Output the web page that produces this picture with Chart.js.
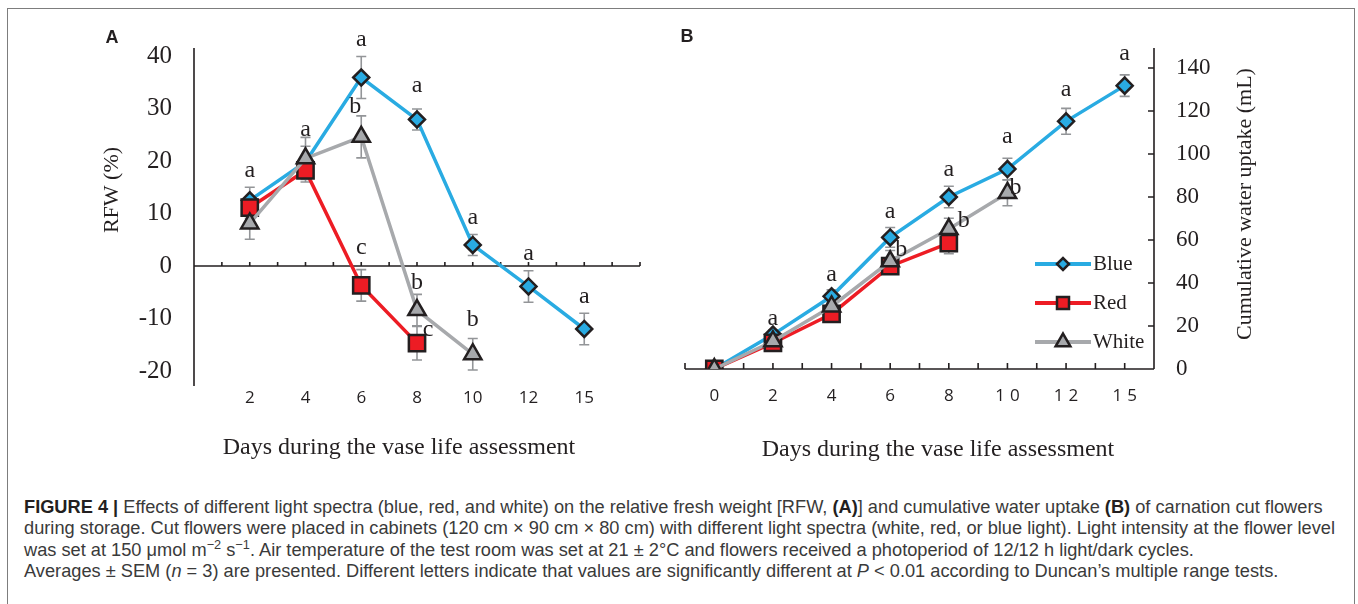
<!DOCTYPE html>
<html>
<head>
<meta charset="utf-8">
<script src="https://cdn.jsdelivr.net/npm/chart.js@4.4.1/dist/chart.umd.min.js"></script>
<style>
  body { margin: 0; background: #fff; width: 1358px; height: 604px; overflow: hidden; position: relative; }
  .frame { position: absolute; left: 7px; top: 8px; width: 1348px; height: 640px; border: 1.5px solid #7d7d7d; box-sizing: border-box; }
  #chartA { position: absolute; left: 0; top: 0; }
  #chartB { position: absolute; left: 660px; top: 0; }
  .caption { position: absolute; left: 24px; top: 496px; font-family: "Liberation Sans", Arial, sans-serif; font-size: 15.5px; line-height: 21.4px; color: #3a3a3a; white-space: nowrap; }
  .caption b { color: #231f20; }
  .caption sup { font-size: 0.7em; line-height: 0; }
</style>
</head>
<body>
<div class="frame"></div>
<canvas id="chartA" width="660" height="470"></canvas>
<canvas id="chartB" width="698" height="470"></canvas>
<div class="caption" id="caption">
  <div><b>FIGURE 4 |</b> Effects of different light spectra (blue, red, and white) on the relative fresh weight [RFW, <b>(A)</b>] and cumulative water uptake <b>(B)</b> of carnation cut flowers</div>
  <div id="longLine">during storage. Cut flowers were placed in cabinets (120 cm × 90 cm × 80 cm) with different light spectra (white, red, or blue light). Light intensity at the flower level</div>
  <div>was set at 150 μmol m<sup>−2</sup> s<sup>−1</sup>. Air temperature of the test room was set at 21 ± 2°C and flowers received a photoperiod of 12/12 h light/dark cycles.</div>
  <div>Averages ± SEM (<i>n</i> = 3) are presented. Different letters indicate that values are significantly different at <i>P</i> &lt; 0.01 according to Duncan’s multiple range tests.</div>
</div>
<script>
// panel A: relative fresh weight (%)
const daysA = ['2', '4', '6', '8', '10', '12', '15'];
const yTicksA = [-20, -10, 0, 10, 20, 30, 40];
const blueA = [12.5, 19.8, 35.9, 27.9, 4.0, -3.9, -12.0];
const blueErrA = [2.5, 3, 4, 2, 2, 3, 3];
const redA = [11.1, 18.2, -3.7, -14.7];
const redErrA = [2, 2.2, 3, 3.2];
const whiteA = [8.1, 20.5, 24.6, -8.4, -16.8];
const whiteErrA = [3, 4, 4, 3, 3];
const blueLettersA = ['a', 'a', 'a', 'a', 'a', 'a', 'a'];
const redLettersA = ['', '', 'c', 'c'];
const whiteLettersA = ['', '', 'b', 'b', 'b'];

// panel B: cumulative water uptake (mL)
const daysB = ['0', '2', '4', '6', '8', '10', '12', '15'];
const yTicksB = [0, 20, 40, 60, 80, 100, 120, 140];
const blueB = [0, 16, 33.8, 61.2, 80, 93, 115.2, 131.8];
const blueErrB = [0, 2, 3, 4.6, 5, 5, 6, 5];
const redB = [0, 12.1, 25.6, 47.8, 58.6];
const redErrB = [0, 1.5, 2, 3, 5];
const whiteB = [0, 12.9, 29.1, 50.1, 65.1, 81.9];
const whiteErrB = [0, 2, 3, 5, 5, 6];
const blueLettersB = ['', 'a', 'a', 'a', 'a', 'a', 'a', 'a'];
const redLettersB = [];
const whiteLettersB = ['', '', '', 'b', 'b', 'b'];

const INK = '#231f20';
const SERIF = '"Liberation Serif", "Times New Roman", serif';
const SANS = '"Open Sans", "Noto Sans", sans-serif';

const BLUE = { label: 'Blue', color: '#29abe2', shape: 'rectRot', r: 8, order: 3 };
const RED = { label: 'Red', color: '#ed1c24', shape: 'rect', r: 11.5, order: 2 };
const WHITE = { label: 'White', color: '#a7a9ac', shape: 'triangle', r: 10, order: 1 };

function series(values, errs, letters, firstX, st) {
  return {
    label: st.label,
    data: values.map((v, i) => ({ x: i + firstX, y: v })),
    errors: errs,
    letters: letters,
    borderColor: st.color,
    borderWidth: 3.5,
    pointStyle: st.shape,
    pointRadius: st.r,
    pointBackgroundColor: st.color,
    pointBorderColor: INK,
    pointBorderWidth: 2.5,
    order: st.order,
    tension: 0
  };
}

// axis lines with the small inward ticks
function axisLines(cfg) {
  return {
    id: 'axisLines',
    beforeDatasetsDraw(chart) {
      const ctx = chart.ctx, a = chart.chartArea, xs = chart.scales.x, ys = chart.scales.y;
      ctx.save();
      ctx.strokeStyle = INK;
      ctx.lineWidth = 1.6;
      ctx.beginPath();
      const y0 = ys.getPixelForValue(cfg.xAxisAt);
      ctx.moveTo(a.left, y0);
      ctx.lineTo(a.right, y0);
      for (let v = xs.min; v <= xs.max + 1e-6; v += 0.5) {
        const px = xs.getPixelForValue(v);
        ctx.moveTo(px, y0);
        ctx.lineTo(px, y0 - cfg.xTickLen);
      }
      const yx = cfg.side === 'left' ? a.left : a.right;
      ctx.moveTo(yx, a.top);
      ctx.lineTo(yx, a.bottom);
      if (cfg.yTickLen) {
        ys.ticks.forEach(t => {
          const py = ys.getPixelForValue(t.value);
          ctx.moveTo(yx, py);
          ctx.lineTo(yx - cfg.yTickLen, py);
        });
      }
      ctx.stroke();
      ctx.restore();
    }
  };
}

const errorBars = {
  id: 'errorBars',
  beforeDatasetsDraw(chart) {
    const ctx = chart.ctx, ys = chart.scales.y;
    ctx.save();
    ctx.strokeStyle = '#939598';
    ctx.lineWidth = 1.6;
    chart.data.datasets.forEach((ds, di) => {
      chart.getDatasetMeta(di).data.forEach((pt, i) => {
        const e = ds.errors[i];
        if (!e) return;
        const v = ds.data[i].y;
        const top = ys.getPixelForValue(v + e), bot = ys.getPixelForValue(v - e);
        ctx.beginPath();
        ctx.moveTo(pt.x, top); ctx.lineTo(pt.x, bot);
        ctx.moveTo(pt.x - 5, top); ctx.lineTo(pt.x + 5, top);
        ctx.moveTo(pt.x - 5, bot); ctx.lineTo(pt.x + 5, bot);
        ctx.stroke();
      });
    });
    ctx.restore();
  }
};

// Duncan letters above the error bars
function sigLetters(nudge) {
  return {
    id: 'sigLetters',
    afterDatasetsDraw(chart) {
      const ctx = chart.ctx, ys = chart.scales.y;
      ctx.save();
      ctx.font = '24px ' + SERIF;
      ctx.fillStyle = INK;
      ctx.textAlign = 'center';
      ctx.textBaseline = 'middle';
      chart.data.datasets.forEach((ds, di) => {
        const meta = chart.getDatasetMeta(di);
        ds.letters.forEach((t, i) => {
          if (!t) return;
          const top = ys.getPixelForValue(ds.data[i].y + (ds.errors[i] || 0));
          const n = nudge[di + ':' + i] || [0, 0];
          ctx.fillText(t, meta.data[i].x + n[0], top - 17 + n[1]);
        });
      });
      ctx.restore();
    }
  };
}

function texts(items) {
  return {
    id: 'texts',
    afterDraw(chart) {
      const ctx = chart.ctx;
      items.forEach(t => {
        ctx.save();
        ctx.translate(t.x, t.y);
        if (t.rot) ctx.rotate(t.rot);
        ctx.font = t.font;
        ctx.fillStyle = INK;
        ctx.textAlign = 'center';
        ctx.textBaseline = 'middle';
        ctx.fillText(t.text, 0, 0);
        ctx.restore();
      });
    }
  };
}

function inLegend(x, y, gap, radii) {
  return {
    id: 'inLegend',
    afterDraw(chart) {
      const ctx = chart.ctx;
      chart.data.datasets.forEach((ds, i) => {
        const ly = y + i * gap;
        ctx.save();
        ctx.strokeStyle = ds.borderColor;
        ctx.lineWidth = 4;
        ctx.beginPath();
        ctx.moveTo(x, ly);
        ctx.lineTo(x + 56, ly);
        ctx.stroke();
        ctx.fillStyle = ds.pointBackgroundColor;
        ctx.strokeStyle = INK;
        ctx.lineWidth = 2.5;
        Chart.helpers.drawPoint(ctx, { pointStyle: ds.pointStyle, radius: radii[i], rotation: 0, borderWidth: 2.5 }, x + 28, ly);
        ctx.font = '21px ' + SERIF;
        ctx.fillStyle = INK;
        ctx.textAlign = 'left';
        ctx.textBaseline = 'middle';
        ctx.fillText(ds.label, x + 58, ly);
        ctx.restore();
      });
    }
  };
}

// wider digit spacing on the panel B day labels
const spacedX = {
  id: 'spacedX',
  beforeDraw(chart) {
    const s = chart.scales.x;
    if (s._spaced) return;
    const orig = s.drawLabels.bind(s);
    s.drawLabels = function (area) {
      chart.ctx.save();
      chart.ctx.letterSpacing = '5px';
      chart.ctx.translate(2.5, 0);
      orig(area);
      chart.ctx.restore();
    };
    s._spaced = true;
  }
};

const base = {
  animation: false,
  responsive: false,
  plugins: { legend: { display: false }, tooltip: { enabled: false } }
};

new Chart(document.getElementById('chartA'), {
  type: 'line',
  data: {
    datasets: [
      series(blueA, blueErrA, blueLettersA, 1, BLUE),
      series(redA, redErrA, redLettersA, 1, RED),
      series(whiteA, whiteErrA, whiteLettersA, 1, WHITE)
    ]
  },
  options: Object.assign({}, base, {
    layout: { padding: { left: 0, top: 48, right: 20, bottom: 0 } },
    scales: {
      x: {
        type: 'linear', min: 0, max: 8,
        grid: { display: false, drawTicks: false }, border: { display: false },
        afterBuildTicks: s => { s.ticks = daysA.map((d, i) => ({ value: i + 1 })); },
        afterFit: s => { s.height = 84; },
        ticks: { callback: v => daysA[v - 1], font: { family: SANS, size: 17 }, color: INK, padding: 2, maxRotation: 0, autoSkip: false }
      },
      y: {
        min: -22.86, max: 41.52,
        grid: { display: false, drawTicks: false }, border: { display: false },
        afterBuildTicks: s => { s.ticks = yTicksA.map(v => ({ value: v })); },
        afterFit: s => { s.width = 194; },
        ticks: { font: { family: SERIF, size: 25 }, color: INK, padding: 22 }
      }
    }
  }),
  plugins: [
    axisLines({ xAxisAt: 0, xTickLen: 4, side: 'left', yTickLen: 0 }),
    errorBars,
    sigLetters({ '2:2': [-6, 8], '1:2': [0, -5], '0:3': [0, -6], '2:3': [0, 5], '1:3': [11, 20], '2:4': [0, -2] }),
    texts([
      { text: 'A', x: 112, y: 38, font: 'bold 18px "Liberation Sans", Arial, sans-serif' },
      { text: 'RFW (%)', x: 112, y: 190, rot: -Math.PI / 2, font: '22px ' + SERIF },
      { text: 'Days during the vase life assessment', x: 399, y: 448, font: '24px ' + SERIF }
    ])
  ]
});

new Chart(document.getElementById('chartB'), {
  type: 'line',
  data: {
    datasets: [
      series(blueB, blueErrB, blueLettersB, 0, BLUE),
      series(redB, redErrB, redLettersB, 0, RED),
      series(whiteB, whiteErrB, whiteLettersB, 0, WHITE)
    ]
  },
  options: Object.assign({}, base, {
    layout: { padding: { left: 25, top: 48, right: 0, bottom: 0 } },
    scales: {
      x: {
        type: 'linear', min: -0.5, max: 7.5,
        grid: { display: false, drawTicks: false }, border: { display: false },
        afterBuildTicks: s => { s.ticks = daysB.map((d, i) => ({ value: i })); },
        afterFit: s => { s.height = 101; },
        ticks: { callback: v => daysB[v], font: { family: SANS, size: 17 }, color: INK, padding: 17, maxRotation: 0, autoSkip: false }
      },
      y: {
        position: 'right', min: 0, max: 149.3,
        grid: { display: false, drawTicks: false }, border: { display: false },
        afterBuildTicks: s => { s.ticks = yTicksB.map(v => ({ value: v })); },
        afterFit: s => { s.width = 204; },
        ticks: { font: { family: SERIF, size: 23 }, color: INK, padding: 22 }
      }
    }
  }),
  plugins: [
    spacedX,
    axisLines({ xAxisAt: 0, xTickLen: 6, side: 'right', yTickLen: 6 }),
    errorBars,
    sigLetters({ '0:1': [0, 5], '0:2': [0, 2], '0:3': [0, 1], '0:5': [0, -5], '0:6': [0, -2], '0:7': [0, -4], '2:3': [11, 16], '2:4': [15, 19], '2:5': [8, 25] }),
    inLegend(375, 264, 39, [6, 8.5, 8.5]),
    texts([
      { text: 'B', x: 27, y: 37, font: 'bold 18px "Liberation Sans", Arial, sans-serif' },
      { text: 'Cumulative water uptake (mL)', x: 585, y: 204, rot: -Math.PI / 2, font: '22px ' + SERIF },
      { text: 'Days during the vase life assessment', x: 278, y: 450, font: '24px ' + SERIF }
    ])
  ]
});

// fit the caption so its longest line spans the same width as the figure text
const cap = document.getElementById('caption');
const longLine = document.getElementById('longLine');
const w = longLine.getBoundingClientRect().width;
cap.style.fontSize = (15.5 * 1312 / w).toFixed(2) + 'px';
</script>
</body>
</html>
